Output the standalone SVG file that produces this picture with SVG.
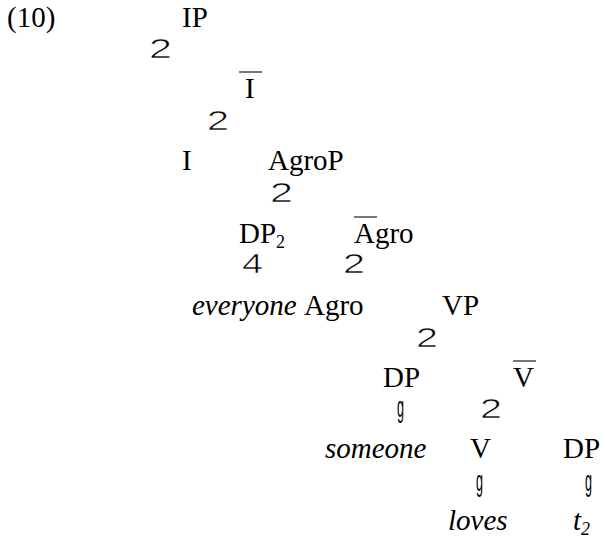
<svg xmlns="http://www.w3.org/2000/svg" width="605" height="539" viewBox="0 0 605 539">
<style>
.t{font-family:"Liberation Serif","Times New Roman",serif;font-size:29px;fill:#000}
.i{font-style:italic}
.s{font-size:18px}
.b{font-family:"Liberation Sans",Arial,sans-serif;font-size:27px;fill:#000;stroke:#fff;stroke-width:0.6}
.g{font-family:"Liberation Sans",Arial,sans-serif;font-size:30px;fill:#000}
.bar{stroke:#555;stroke-width:1.6}
</style>
<rect width="605" height="539" fill="#fff"/>
<g id="label"><text class="t" x="7" y="27">(10)</text></g>
<g id="IP"><text class="t" x="182" y="27">IP</text></g>
<g id="Ibar"><line class="bar" x1="239" y1="72" x2="262" y2="72"/><text class="t" x="245" y="98">I</text></g>
<g id="I"><text class="t" x="182" y="170">I</text></g>
<g id="AgroP"><text class="t" x="268" y="170">AgroP</text></g>
<g id="DP2"><text class="t" x="239" y="243">DP<tspan class="s" dy="5">2</tspan></text></g>
<g id="Agrobar"><line class="bar" x1="354" y1="217" x2="377" y2="217"/><text class="t" x="354" y="243">Agro</text></g>
<g id="everyone"><text class="t i" x="192" y="315">everyone</text></g>
<g id="Agro"><text class="t" x="304" y="315">Agro</text></g>
<g id="VP"><text class="t" x="442" y="315">VP</text></g>
<g id="DP"><text class="t" x="383" y="387">DP</text></g>
<g id="Vbar"><line class="bar" x1="513" y1="361" x2="536" y2="361"/><text class="t" x="513" y="387">V</text></g>
<g id="someone"><text class="t i" x="325" y="458">someone</text></g>
<g id="V"><text class="t" x="470" y="458">V</text></g>
<g id="DPt"><text class="t" x="563" y="458">DP</text></g>
<g id="loves"><text class="t i" x="448" y="530">loves</text></g>
<g id="t2"><text class="t i" x="573" y="530">t<tspan class="s" dy="5">2</tspan></text></g>
<g id="connectors">
<text class="b" x="149" y="58" textLength="23" lengthAdjust="spacingAndGlyphs">2</text>
<text class="b" x="207" y="130" textLength="22" lengthAdjust="spacingAndGlyphs">2</text>
<text class="b" x="270" y="202" textLength="23" lengthAdjust="spacingAndGlyphs">2</text>
<text class="b" x="242" y="273" textLength="21" lengthAdjust="spacingAndGlyphs">4</text>
<text class="b" x="343" y="273" textLength="22" lengthAdjust="spacingAndGlyphs">2</text>
<text class="b" x="416" y="347" textLength="22" lengthAdjust="spacingAndGlyphs">2</text>
<text class="b" x="480" y="418" textLength="22" lengthAdjust="spacingAndGlyphs">2</text>
<text class="g" x="397" y="417" textLength="7" lengthAdjust="spacingAndGlyphs">g</text>
<text class="g" x="476" y="491" textLength="7" lengthAdjust="spacingAndGlyphs">g</text>
<text class="g" x="585" y="491" textLength="7" lengthAdjust="spacingAndGlyphs">g</text>
</g>
</svg>
